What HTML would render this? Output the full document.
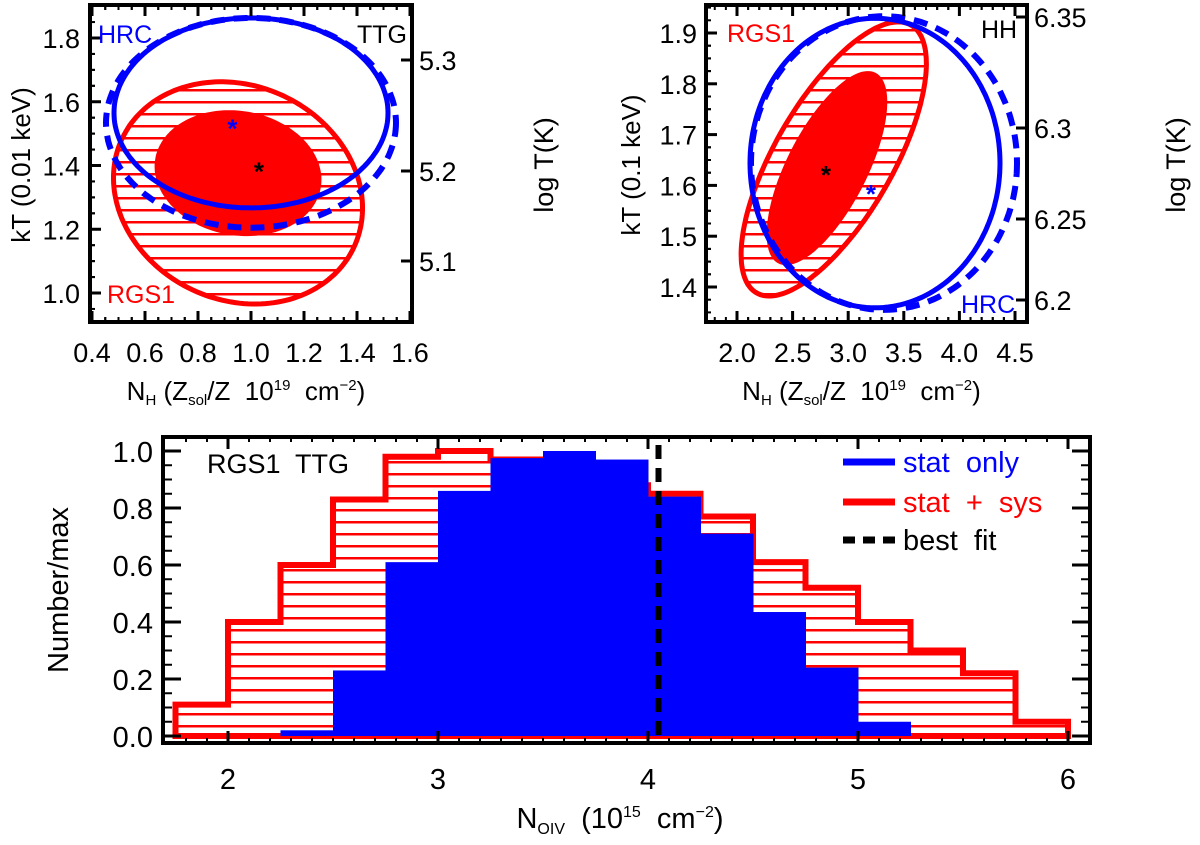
<!DOCTYPE html>
<html><head><meta charset="utf-8"><style>
body{margin:0;background:#fff}
svg{display:block;font-family:"Liberation Sans",sans-serif}
text{white-space:pre}
</style></head><body>
<svg id="s" width="1200" height="845" viewBox="0 0 1200 845">
<defs>
<pattern id="hatch" patternUnits="userSpaceOnUse" width="20" height="12"><rect x="0" y="5" width="20" height="2.5" fill="#ff0000"/></pattern>
</defs>
</svg>
<script>
// ---- histogram data ----
const redBinStart = 1.75;
const redValues = [0.11,0.40,0.60,0.83,0.98,1.0,0.97,0.95,0.88,0.85,0.77,0.61,0.52,0.40,0.30,0.22,0.05];
const blueBinStart = 2.25;
const blueValues = [0.02,0.23,0.61,0.86,0.975,1.0,0.97,0.84,0.71,0.435,0.24,0.05];
const binWidth = 0.25;
const bestFit = 4.05;
const histXTicks = [2,3,4,5,6];
const histYTicks = ["0.0","0.2","0.4","0.6","0.8","1.0"];
// ---- contour panel data (cx, cy, semi-axis a, semi-axis b in data units along x/y scale, angle deg) ----
const ttgXTicks = ["0.4","0.6","0.8","1.0","1.2","1.4","1.6"];
const ttgYTicks = ["1.0","1.2","1.4","1.6","1.8"];
const ttgLogTicks = [["5.1",261],["5.2",171],["5.3",60]];
const ttgBlueSolid = [1.0,1.565,0.517,0.298,0];
const ttgBlueDash = [1.0,1.534,0.547,0.329,0];
const ttgRedOuter = [0.951,1.314,0.483,0.336,25];
const ttgRedInner = [0.951,1.376,0.317,0.195,10];
const ttgBlueStar = [0.93,1.52];
const ttgBlackStar = [1.03,1.385];
const hhXTicks = ["2.0","2.5","3.0","3.5","4.0","4.5"];
const hhYTicks = ["1.4","1.5","1.6","1.7","1.8","1.9"];
const hhLogTicks = [["6.2",300],["6.25",219],["6.3",128],["6.35",17]];
const hhBlueSolid = [3.241,1.644,1.124,0.285,0];
const hhBlueDash = [3.322,1.644,1.196,0.289,0];
const hhRedOuter = [2.87,1.652,1.39,0.116,-60];
const hhRedInner = [2.809,1.634,0.962,0.079,-63];
const hhBlueStar = [3.205,1.585];
const hhBlackStar = [2.80,1.622];

const svg=document.getElementById('s');
const NS='http://www.w3.org/2000/svg';
function el(tag,attrs,parent){const e=document.createElementNS(NS,tag);for(const k in attrs)e.setAttribute(k,attrs[k]);(parent||svg).appendChild(e);return e;}
function txt(x,y,s,attrs,parent){const t=el('text',Object.assign({x:x,y:y},attrs),parent);t.textContent=s;return t;}

// ===== contour panels =====
function panel(o){
  const g=el('g',{});
  
  
  const sx=v=>o.x0+(v-o.xv0)*o.xs, sy=v=>o.y0-(v-o.yv0)*o.ys;
  function ell(p,attrs,name){
    const cx=sx(p[0]),cy=sy(p[1]),a=p[2]*o.xs,b=p[3]*o.ys,t=p[4]*Math.PI/180;
    let d='';
    for(let i=0;i<=180;i++){const u=i/180*2*Math.PI;const x=cx+a*Math.cos(u)*Math.cos(t)-b*Math.sin(u)*Math.sin(t);const y=cy+a*Math.cos(u)*Math.sin(t)+b*Math.sin(u)*Math.cos(t);d+=(i?'L':'M')+x.toFixed(1)+','+y.toFixed(1);}
    const e=el('path',Object.assign({d:d+'Z'},attrs),g);
    
    
  }
  ell(o.redOuter,{fill:'url(#hatch)',stroke:'#ff0000','stroke-width':5},'rgs1-outer-contour');
  ell(o.redInner,{fill:'#ff0000',stroke:'none'},'rgs1-inner-contour');
  ell(o.blueDash,{fill:'none',stroke:'#0000ff','stroke-width':6,'stroke-dasharray':'14 9'},'hrc-dashed-contour');
  ell(o.blueSolid,{fill:'none',stroke:'#0000ff','stroke-width':5},'hrc-solid-contour');
  const bs=txt(sx(o.blueStar[0]),sy(o.blueStar[1])+10,'*',{fill:'#0000ff','font-size':26,'font-weight':'bold','text-anchor':'middle'},g);
  
  const ks=txt(sx(o.blackStar[0]),sy(o.blackStar[1])+10,'*',{fill:'#000','font-size':26,'font-weight':'bold','text-anchor':'middle'},g);
  
  const fr=el('rect',{x:o.bx,y:o.by,width:o.bw,height:o.bh,fill:'none',stroke:'#000','stroke-width':4},g);
  
  o.xt.forEach((s,i)=>{const v=parseFloat(s),x=sx(v);
    el('line',{x1:x,x2:x,y1:o.by+o.bh,y2:o.by+o.bh-11,stroke:'#000','stroke-width':3},g);
    el('line',{x1:x,x2:x,y1:o.by,y2:o.by+11,stroke:'#000','stroke-width':3},g);
    for(let k=-o.xmin;k<o.xmin;k++){if(k===0)continue;const xm=sx(v+k*o.xstep/o.xmin);if(xm<o.bx+o.bw-2&&xm>o.bx+2){el('line',{x1:xm,x2:xm,y1:o.by+o.bh,y2:o.by+o.bh-5,stroke:'#000','stroke-width':2},g);el('line',{x1:xm,x2:xm,y1:o.by,y2:o.by+5,stroke:'#000','stroke-width':2},g);}}
    const t=txt(x,362,s,{'font-size':27,'text-anchor':'middle'},g);
    
  });
  o.yt.forEach(s=>{const v=parseFloat(s),y=sy(v);
    el('line',{x1:o.bx,x2:o.bx+11,y1:y,y2:y,stroke:'#000','stroke-width':3},g);
    for(let k=-3;k<o.ymin;k++){if(k===0)continue;const ym=sy(v+k*o.ystep/o.ymin);if(ym>o.by+2&&ym<o.by+o.bh-2)el('line',{x1:o.bx,x2:o.bx+5,y1:ym,y2:ym,stroke:'#000','stroke-width':2},g);}
    const t=txt(o.ylx,y+10,s,{'font-size':27,'text-anchor':'end'},g);
    
  });
  o.lt.forEach(([s,y])=>{
    el('line',{x1:o.bx+o.bw,x2:o.bx+o.bw-11,y1:y,y2:y,stroke:'#000','stroke-width':3},g);
    const t=txt(o.bx+o.bw+7,y+10,s,{'font-size':27},g);
    
  });
  const yt=txt(0,0,o.ytitle,{'font-size':26,'text-anchor':'middle',transform:`translate(${o.ytx},165) rotate(-90)`},g);
  
  const rt=txt(0,0,'log T(K)',{'font-size':27,'text-anchor':'middle',transform:`translate(${o.rtx},165) rotate(-90)`},g);
  
  const xt=el('text',{x:o.bx+o.bw/2-5,y:400,'font-size':26,'text-anchor':'middle'},g);
  xt.innerHTML='N<tspan font-size="15" dy="5">H</tspan><tspan dy="-5"> (Z</tspan><tspan font-size="15" dy="5">sol</tspan><tspan dy="-5">/Z  10</tspan><tspan font-size="15" dy="-10">19</tspan><tspan dy="10">  cm</tspan><tspan font-size="15" dy="-10">−2</tspan><tspan dy="10">)</tspan>';
  
  o.labels.forEach(([s,x,y,c,n])=>{const t=txt(x,y,s,{'font-size':25,fill:c},g);});
}
panel({name:'ttg-contour-panel',bx:90,by:5,bw:322,bh:317,x0:92,xv0:0.4,xs:265,y0:293,yv0:1.0,ys:318.75,
  xt:ttgXTicks,yt:ttgYTicks,lt:ttgLogTicks,xstep:0.2,xmin:4,ystep:0.2,ymin:4,ylx:80,ytx:30,rtx:553,ytitle:'kT (0.01 keV)',
  redOuter:ttgRedOuter,redInner:ttgRedInner,
  blueDash:ttgBlueDash,blueSolid:ttgBlueSolid,blueStar:ttgBlueStar,blackStar:ttgBlackStar,
  labels:[['HRC',98,43,'#0000ff','hrc-label'],['TTG',357,43,'#000','ttg-label'],['RGS1',107,303,'#ff0000','rgs1-label']]});
panel({name:'hh-contour-panel',bx:706,by:5,bw:321,bh:317,x0:737,xv0:2.0,xs:111.2,y0:287,yv0:1.4,ys:508,
  xt:hhXTicks,yt:hhYTicks,lt:hhLogTicks,xstep:0.5,xmin:5,ystep:0.1,ymin:4,ylx:697,ytx:640,rtx:1185,ytitle:'kT (0.1 keV)',
  redOuter:hhRedOuter,redInner:hhRedInner,
  blueDash:hhBlueDash,blueSolid:hhBlueSolid,blueStar:hhBlueStar,blackStar:hhBlackStar,
  labels:[['RGS1',727,42,'#ff0000','rgs1-label'],['HH',981,38,'#000','hh-label'],['HRC',961,313,'#0000ff','hrc-label']]});

// ===== histogram =====
const H={bx:163,by:437,bw:927,bh:306};
const hx=v=>228+(v-2)*210, hy=v=>736-v*285;
const hg=el('g',{});


function stepPath(start,vals){let d=`M${hx(start)},${hy(0)}`;vals.forEach((v,i)=>{d+=` L${hx(start+i*binWidth)},${hy(v)} L${hx(start+(i+1)*binWidth)},${hy(v)}`;});d+=` L${hx(start+vals.length*binWidth)},${hy(0)} Z`;return d;}
const rh=el('path',{d:stepPath(redBinStart,redValues),fill:'url(#hatch)',stroke:'#ff0000','stroke-width':6},hg);

blueValues.forEach((v,i)=>{const x0=hx(blueBinStart+i*binWidth),x1=hx(blueBinStart+(i+1)*binWidth);
  const r=el('rect',{x:x0,y:hy(v),width:x1-x0+0.5,height:hy(0)-hy(v),fill:'#0000ff'},hg);
  });
const bf=el('line',{x1:hx(bestFit),x2:hx(bestFit),y1:445,y2:hy(0),stroke:'#000','stroke-width':6,'stroke-dasharray':'14 9'},hg);

const hf=el('rect',{x:H.bx,y:H.by,width:H.bw,height:H.bh,fill:'none',stroke:'#000','stroke-width':4},hg);

histXTicks.forEach(v=>{const x=hx(v);
  el('line',{x1:x,x2:x,y1:H.by+H.bh,y2:H.by+H.bh-12,stroke:'#000','stroke-width':3},hg);
  el('line',{x1:x,x2:x,y1:H.by,y2:H.by+12,stroke:'#000','stroke-width':3},hg);
  const t=txt(x,789,String(v),{'font-size':29,'text-anchor':'middle'},hg);
  });
for(let v=1.7;v<=6.26;v+=0.1){const x=hx(v);if(x>H.bx+2&&x<H.bx+H.bw-2){el('line',{x1:x,x2:x,y1:H.by+H.bh,y2:H.by+H.bh-5,stroke:'#000','stroke-width':2},hg);el('line',{x1:x,x2:x,y1:H.by,y2:H.by+5,stroke:'#000','stroke-width':2},hg);}}
histYTicks.forEach(s=>{const v=parseFloat(s),y=hy(v);
  el('line',{x1:H.bx,x2:H.bx+18,y1:y,y2:y,stroke:'#000','stroke-width':3},hg);
  el('line',{x1:H.bx+H.bw,x2:H.bx+H.bw-18,y1:y,y2:y,stroke:'#000','stroke-width':3},hg);
  for(let k=1;k<4;k++){const ym=hy(v+k*0.05);if(ym>H.by){el('line',{x1:H.bx,x2:H.bx+9,y1:ym,y2:ym,stroke:'#000','stroke-width':2},hg);el('line',{x1:H.bx+H.bw,x2:H.bx+H.bw-9,y1:ym,y2:ym,stroke:'#000','stroke-width':2},hg);}}
  const t=txt(153,y+11,s,{'font-size':29,'text-anchor':'end'},hg);
  });
const hyt=txt(0,0,'Number/max',{'font-size':29,'text-anchor':'middle',transform:'translate(68,590) rotate(-90)'},hg);

const hxt=el('text',{x:620,y:828,'font-size':29,'text-anchor':'middle'},hg);
hxt.innerHTML='N<tspan font-size="16" dy="6">OIV</tspan><tspan dy="-6">  (10</tspan><tspan font-size="16" dy="-11">15</tspan><tspan dy="11">  cm</tspan><tspan font-size="16" dy="-11">−2</tspan><tspan dy="11">)</tspan>';

const ann=txt(207,473,'RGS1  TTG',{'font-size':27},hg);

const lg=el('g',{},hg);


[['stat  only','#0000ff',462,'legend-entry-stat-only',null],['stat  +  sys','#ff0000',502,'legend-entry-stat-sys',null],['best  fit','#000',540,'legend-entry-best-fit','12 8']].forEach(([s,c,y,n,da])=>{
  const l=el('line',{x1:843,x2:895,y1:y,y2:y,stroke:c,'stroke-width':7},lg);
  if(da)l.setAttribute('stroke-dasharray',da);
  
  const t=txt(903,y+10,s,{'font-size':29,fill:c},lg);
  });
</script>
</body></html>
